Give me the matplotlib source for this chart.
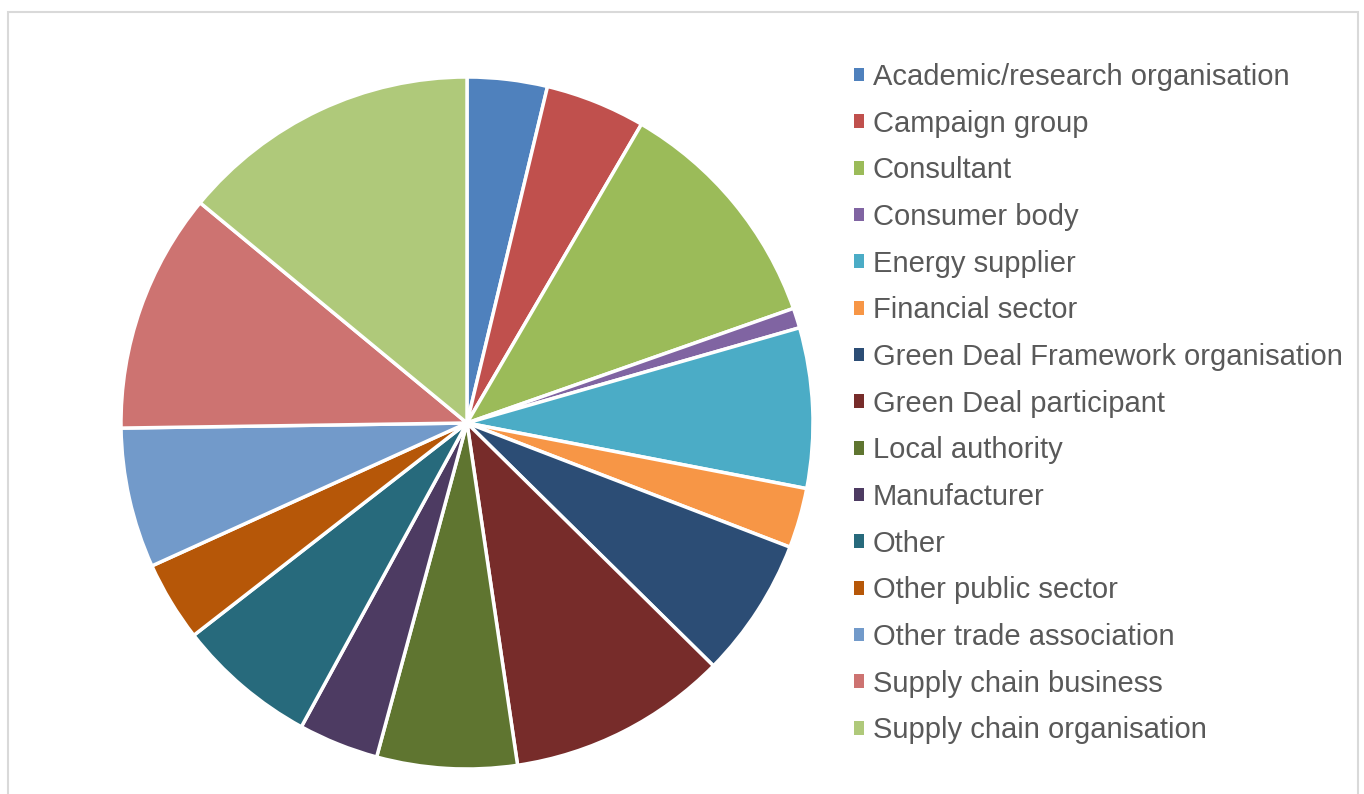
import matplotlib
matplotlib.use('Agg')
import matplotlib.pyplot as plt
from matplotlib.patches import Rectangle

plt.rcParams['font.family'] = ['Liberation Sans', 'DejaVu Sans']

labels = ['Academic/research organisation', 'Campaign group', 'Consultant',
          'Consumer body', 'Energy supplier', 'Financial sector',
          'Green Deal Framework organisation', 'Green Deal participant',
          'Local authority', 'Manufacturer', 'Other', 'Other public sector',
          'Other trade association', 'Supply chain business',
          'Supply chain organisation']
counts = [4, 5, 12, 1, 8, 3, 7, 11, 7, 4, 7, 4, 7, 12, 15]
colors = ['#4F81BD', '#C0504D', '#9BBB59', '#8064A2', '#4BACC6', '#F79646',
          '#2C4D75', '#772C2A', '#5F7530', '#4D3B62', '#276A7C', '#B65708',
          '#729ACA', '#CD7371', '#AFC97A']

W, H = 1364, 794
fig = plt.figure(figsize=(W / 100, H / 100), dpi=100)

# light grey chart border
fig.patches.append(Rectangle((8 / W, -0.05), 1350 / W, 1.05 - 12 / H,
                             transform=fig.transFigure, fill=False,
                             edgecolor='#D9D9D9', linewidth=1.5))

cx, cy, r = 467, 423, 346
ax = fig.add_axes([(cx - r) / W, (H - cy - r) / H, 2 * r / W, 2 * r / H])
wedges, _ = ax.pie(counts, colors=colors, startangle=90, counterclock=False,
                   radius=1, wedgeprops=dict(edgecolor='white', linewidth=2.5))
ax.set_xlim(-1, 1)
ax.set_ylim(-1, 1)
ax.set_aspect('equal')
ax.axis('off')

leg = fig.legend(wedges, labels, loc='upper left',
                 bbox_to_anchor=(854 / W, 1 - 63 / H), frameon=False,
                 fontsize=21, handlelength=0.35, handleheight=0.35,
                 handletextpad=0.3, labelspacing=0.64, borderpad=0,
                 borderaxespad=0)
for t in leg.get_texts():
    t.set_color('#595959')
for h in leg.legend_handles:
    h.set_edgecolor('none')

fig.savefig('out.png', dpi=100)
